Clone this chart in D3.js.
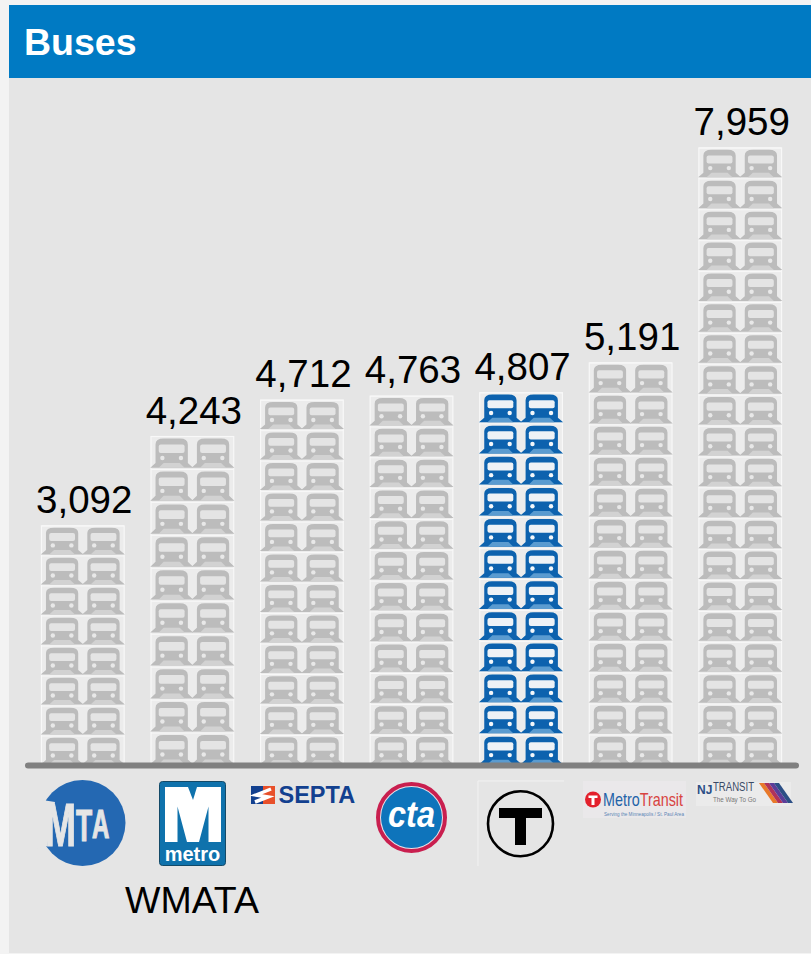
<!DOCTYPE html>
<html><head><meta charset="utf-8">
<script src="https://cdnjs.cloudflare.com/ajax/libs/d3/7.9.0/d3.min.js"></script>
<style>html,body{margin:0;padding:0;background:#f3f3f3}svg{display:block}text{font-family:"Liberation Sans",Arial,sans-serif}</style>
</head><body><svg id="c" width="811" height="954"></svg>
<script>
const agencies = ["MTA","WMATA","SEPTA","CTA","MBTA","Metro Transit","NJ Transit"];
const buses = [3092,4243,4712,4763,4807,5191,7959];
const iconRows = [8,10,12,12,12,13,20];
const highlighted = ["MBTA"];
const title = "Buses";
const W=811,H=954,zero=766;
const svg=d3.select("#c");
const defs=svg.append("defs");
defs.append("filter").attr("id","soft").attr("x","-5%").attr("y","-5%").attr("width","110%").attr("height","110%")
  .append("feGaussianBlur").attr("stdDeviation",.6);
const x=d3.scaleBand().domain(agencies).range([28,795]).paddingInner(.245).paddingOuter(.1225);
const y=d3.scaleLinear().domain([0,7959]).range([zero,148]);
svg.append("rect").attr("x",9).attr("y",5).attr("width",W-9).attr("height",H-6).attr("fill","#e5e5e5");
svg.append("rect").attr("x",9).attr("y",5).attr("width",W-9).attr("height",73).attr("fill","#007ac3");
svg.append("text").attr("x",24).attr("y",55).attr("font-size",37.5).attr("font-weight",700).attr("fill","#fff").text(title);

function icon(g,blue,w,h){
  const c=blue?"#0a62ae":"#bcbcbc",win=blue?"#eef2f6":"#e4e4e4",lamp=blue?"#f4f7fa":"#e8e8e8",foot=blue?"#5a9bd0":"#d2d2d2";
  const sx=d3.scaleLinear().domain([0,1]).range([0,w]),sy=d3.scaleLinear().domain([0,1]).range([0,h]);
  const a=(u,v)=>[sx(u),sy(v)];
  const p=d3.path();
  p.moveTo(...a(.1,.24));p.quadraticCurveTo(...a(.1,.06),...a(.3,.06));p.lineTo(...a(.7,.06));p.quadraticCurveTo(...a(.9,.06),...a(.9,.24));
  p.lineTo(...a(.9,.8));p.lineTo(...a(1.03,.95));p.lineTo(...a(-.03,.95));p.lineTo(...a(.1,.8));p.closePath();
  g.append("path").attr("d",p.toString()).attr("fill",c);
  g.append("rect").attr("x",sx(.18)).attr("y",sy(.24)).attr("width",sx(.64)).attr("height",sy(.26)).attr("rx",2).attr("fill",win);
  [.27,.73].forEach(u=>g.append("circle").attr("cx",sx(u)).attr("cy",sy(.65)).attr("r",2.2).attr("fill",lamp));
  g.append("path").attr("d",`M${sx(.3)},${sy(.8)}L${sx(.7)},${sy(.8)}L${sx(.82)},${sy(.95)}L${sx(.18)},${sy(.95)}Z`).attr("fill",foot);
}
agencies.forEach((a,i)=>{
  const top=y(buses[i]),bw=x.bandwidth(),blue=highlighted.includes(a);
  const g=svg.append("g").attr("transform",`translate(${x(a)},0)`);
  g.append("rect").attr("y",top).attr("width",bw).attr("height",zero-top).attr("fill","#ececec").attr("stroke","#f8f8f8").attr("stroke-width",1.2);
  const pitch=(zero-top)/iconRows[i];
  const icons=g.append("g").attr("filter","url(#soft)");
  d3.range(iconRows[i]).forEach(r=>{
    [0,1].forEach(k=>{
      icon(icons.append("g").attr("transform",`translate(${k*bw/2+.5},${top+r*pitch})`),blue,bw/2-1,pitch);
    });
    g.append("line").attr("x1",0).attr("x2",bw).attr("y1",top+r*pitch).attr("y2",top+r*pitch).attr("stroke","#f8f8f8").attr("stroke-width",1);
  });
  svg.append("text").attr("x",x(a)+bw/2+1.5).attr("y",top-13).attr("text-anchor","middle").attr("font-size",38.5).attr("fill","#000").text(d3.format(",")(buses[i]));
});
svg.append("line").attr("x1",28).attr("x2",796).attr("y1",765.5).attr("y2",765.5).attr("stroke","#808080").attr("stroke-width",6).attr("stroke-linecap","round");

// logos
const T=(g,xx,yy,s,fill,txt,o={})=>g.append("text").attr("x",xx).attr("y",yy).attr("font-size",s).attr("fill",fill).attr("font-weight",o.w||400).attr("text-anchor",o.a||"start").attr("font-style",o.st||"normal").text(txt);
const fit=(t,len)=>t.attr("textLength",len).attr("lengthAdjust","spacingAndGlyphs");
// MTA
svg.append("circle").attr("cx",82.5).attr("cy",823).attr("r",43).attr("fill","#2468b2");
svg.append("path").attr("d","M36,799L55,802L47,846L36,849Z").attr("fill","#e5e5e5");
const mta=svg.append("text").attr("transform","translate(45,0) scale(.6,1)").attr("fill","#e5e5e5").attr("stroke","#e5e5e5").attr("stroke-width",1.2).attr("font-weight",700);
[["M",62,846],["T",44,841],["A",40,838]].forEach(([l,s,b])=>mta.append("tspan").attr("font-size",s).attr("y",b).text(l));
// WMATA
svg.append("rect").attr("x",159.5).attr("y",781.5).attr("width",66).attr("height",84).attr("rx",3).attr("fill","#0f72ac").attr("stroke","#134a68");
svg.append("path").attr("d","M165,787H221V842H208.5V806.5L199,842H187L177.5,806.5V842H165Z").attr("fill","#fff");
svg.append("path").attr("d","M188,787H197L193,800Z").attr("fill","#0f72ac");
T(svg,192.5,861,20,"#fff","metro",{w:700,a:"middle"});
T(svg,192,913,37.5,"#000","WMATA",{a:"middle"});
// SEPTA
svg.append("rect").attr("x",251).attr("y",786).attr("width",24).attr("height",18).attr("fill","#12408f");
svg.append("path").attr("d","M263,786H275V804H263Z").attr("fill","#e8502a");
svg.append("path").attr("d","M271,789L256,795L268,797L255,802").attr("fill","none").attr("stroke","#fff").attr("stroke-width",3.5);
T(svg,278.5,803,23.5,"#12408f","SEPTA",{w:700});
// CTA
svg.append("circle").attr("cx",411.5).attr("cy",817.5).attr("r",33.5).attr("fill","#e8dfe6").attr("stroke","#c91f4f").attr("stroke-width",4);
svg.append("circle").attr("cx",411.5).attr("cy",817.5).attr("r",30.5).attr("fill","#0e74bb");
fit(T(svg,388,827,36,"#fff","cta",{w:700,st:"italic"}),47);
// MBTA
svg.append("path").attr("d","M478,866V781H564").attr("fill","none").attr("stroke","#f2f2f2");
svg.append("circle").attr("cx",520.5).attr("cy",823.7).attr("r",32.5).attr("fill","none").attr("stroke","#000").attr("stroke-width",2.6);
svg.append("path").attr("d","M499,808H542V818H526V845H515V818H499Z").attr("fill","#000");
// Metro Transit
svg.append("rect").attr("x",583).attr("y",781).attr("width",103).attr("height",37).attr("fill","#eae8ea");
svg.append("circle").attr("cx",593).attr("cy",799.5).attr("r",8).attr("fill","#e3202c");
svg.append("path").attr("d","M588.5,795.5H597.5V798H594.5V805H591.5V798H588.5Z").attr("fill","#fff");
const mt=fit(svg.append("text").attr("x",603).attr("y",806).attr("font-size",19),80);
mt.append("tspan").attr("fill","#1f63a8").text("Metro");
mt.append("tspan").attr("fill","#d8433f").text("Transit");
fit(T(svg,604,816,6,"#5b86b5","Serving the Minneapolis / St. Paul Area"),80);
// NJ Transit
svg.append("rect").attr("x",696).attr("y",782).attr("width",95).attr("height",24).attr("fill","#ebebeb");
T(svg,697,794,12,"#2c4f86","NJ",{w:700});
fit(T(svg,713,791,12,"#3a4a66","TRANSIT"),41);
fit(T(svg,713,802,8,"#777","The Way To Go"),43);
const stripes=["#e8792a","#b0335a","#5b3d99","#2c4f86"];
stripes.forEach((c,k)=>svg.append("path").attr("d",`M${759+k*5},783h5l14,20h-5Z`).attr("fill",c));
</script></body></html>
